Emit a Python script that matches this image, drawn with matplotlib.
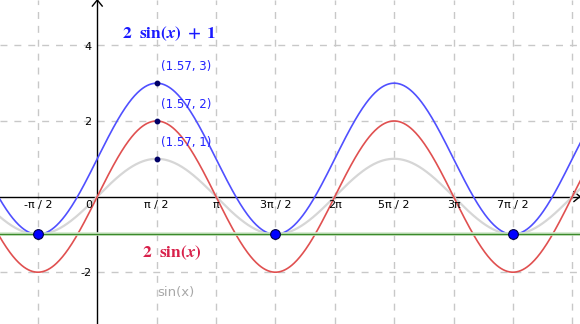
import matplotlib.pyplot as plt
import numpy as np

plt.rcParams['mathtext.fontset'] = 'stix'

# function family: a*sin(x) + b
curve_names = ['sin(x)', '2 sin(x)', '2 sin(x) + 1']
amps = [1, 2, 2]
offsets = [0, 0, 1]
curve_colors = ['#d6d6d6', '#e05050', '#5050ff']
curve_widths = [1.6, 1.2, 1.2]

# marked points
peak_x = [1.5708, 1.5708, 1.5708]
peak_y = [3, 2, 1]
peak_labels = ['(1.57, 3)', '(1.57, 2)', '(1.57, 1)']
min_x = [-np.pi / 2, 3 * np.pi / 2, 7 * np.pi / 2]
min_y = [-1, -1, -1]
hline_y = -1

xtick_vals = [-0.5, 0.5, 1, 1.5, 2, 2.5, 3, 3.5]  # multiples of pi
xtick_labels = ['-π / 2', 'π / 2', 'π', '3π / 2', '2π', '5π / 2', '3π', '7π / 2']
ytick_vals = [4, 2, -2]
ytick_labels = ['4', '2', '-2']

fig = plt.figure(figsize=(5.8, 3.24), dpi=100)
ax = fig.add_axes([0, 0, 1, 1])
ax.set_xlim(-2.574, 12.77)
ax.set_ylim(-3.37, 5.20)
ax.axis('off')

# grid
for k in range(-1, 9):
    if k == 0:
        continue
    ax.axvline(k * np.pi / 2, color='#c8c8c8', lw=1, dashes=(5, 5), zorder=0)
for yv in [-2, 2, 4]:
    ax.axhline(yv, color='#c8c8c8', lw=1, dashes=(5, 5), zorder=0)

# axes with arrows
ax.axhline(0, color='black', lw=1, zorder=1)
ax.axvline(0, color='black', lw=1, zorder=1)
ax.plot([12.77 - 0.16, 12.77, 12.77 - 0.16], [0.13, 0, -0.13], color='black', lw=1, zorder=1)
ax.plot([-0.13, 0, 0.13], [5.20 - 0.16, 5.20, 5.20 - 0.16], color='black', lw=1, zorder=1)

# curves
x = np.linspace(-2.6, 12.8, 800)
for a, b, c, w in zip(amps, offsets, curve_colors, curve_widths):
    ax.plot(x, a * np.sin(x) + b, color=c, lw=w, zorder=2)

# horizontal line y = -1
ax.axhline(hline_y, color='#d2e8cc', lw=2.6, zorder=2)
ax.axhline(hline_y, color='#3a8a2a', lw=1.0, zorder=3)

# points
ax.plot(min_x, min_y, 'o', ms=7, mfc='#0000ff', mec='#000044', mew=0.8, zorder=5)
ax.plot(peak_x, peak_y, 'o', ms=3.2, color='#000066', zorder=5)
for px, py, lab in zip(peak_x, peak_y, peak_labels):
    ax.annotate(lab, (px, py), xytext=(3, 7), textcoords='offset points',
                color='#2222ff', fontsize=8.5, va='bottom', ha='left')

# tick labels
for v, lab in zip(xtick_vals, xtick_labels):
    ax.text(v * np.pi, -0.22, lab, ha='center', va='center', fontsize=8)
ax.text(-0.13, -0.22, '0', ha='right', va='center', fontsize=8)
for v, lab in zip(ytick_vals, ytick_labels):
    ax.text(-0.15, v - 0.03, lab, ha='right', va='center', fontsize=8)

# function labels
ax.text(0.65, 4.3, r'$\mathbf{2\ \ sin(}\boldsymbol{x}\mathbf{)\ +\ 1}$',
        color='#1a1aff', fontsize=12.5, va='center', ha='left')
ax.text(1.18, -1.48, r'$\mathbf{2\ \ sin(}\boldsymbol{x}\mathbf{)}$',
        color='#d8204a', fontsize=12.5, va='center', ha='left')
ax.text(1.58, -2.55, 'sin(x)', color='#a8a8a8', fontsize=9.5, va='center', ha='left')

fig.savefig('out.png', dpi=100)
